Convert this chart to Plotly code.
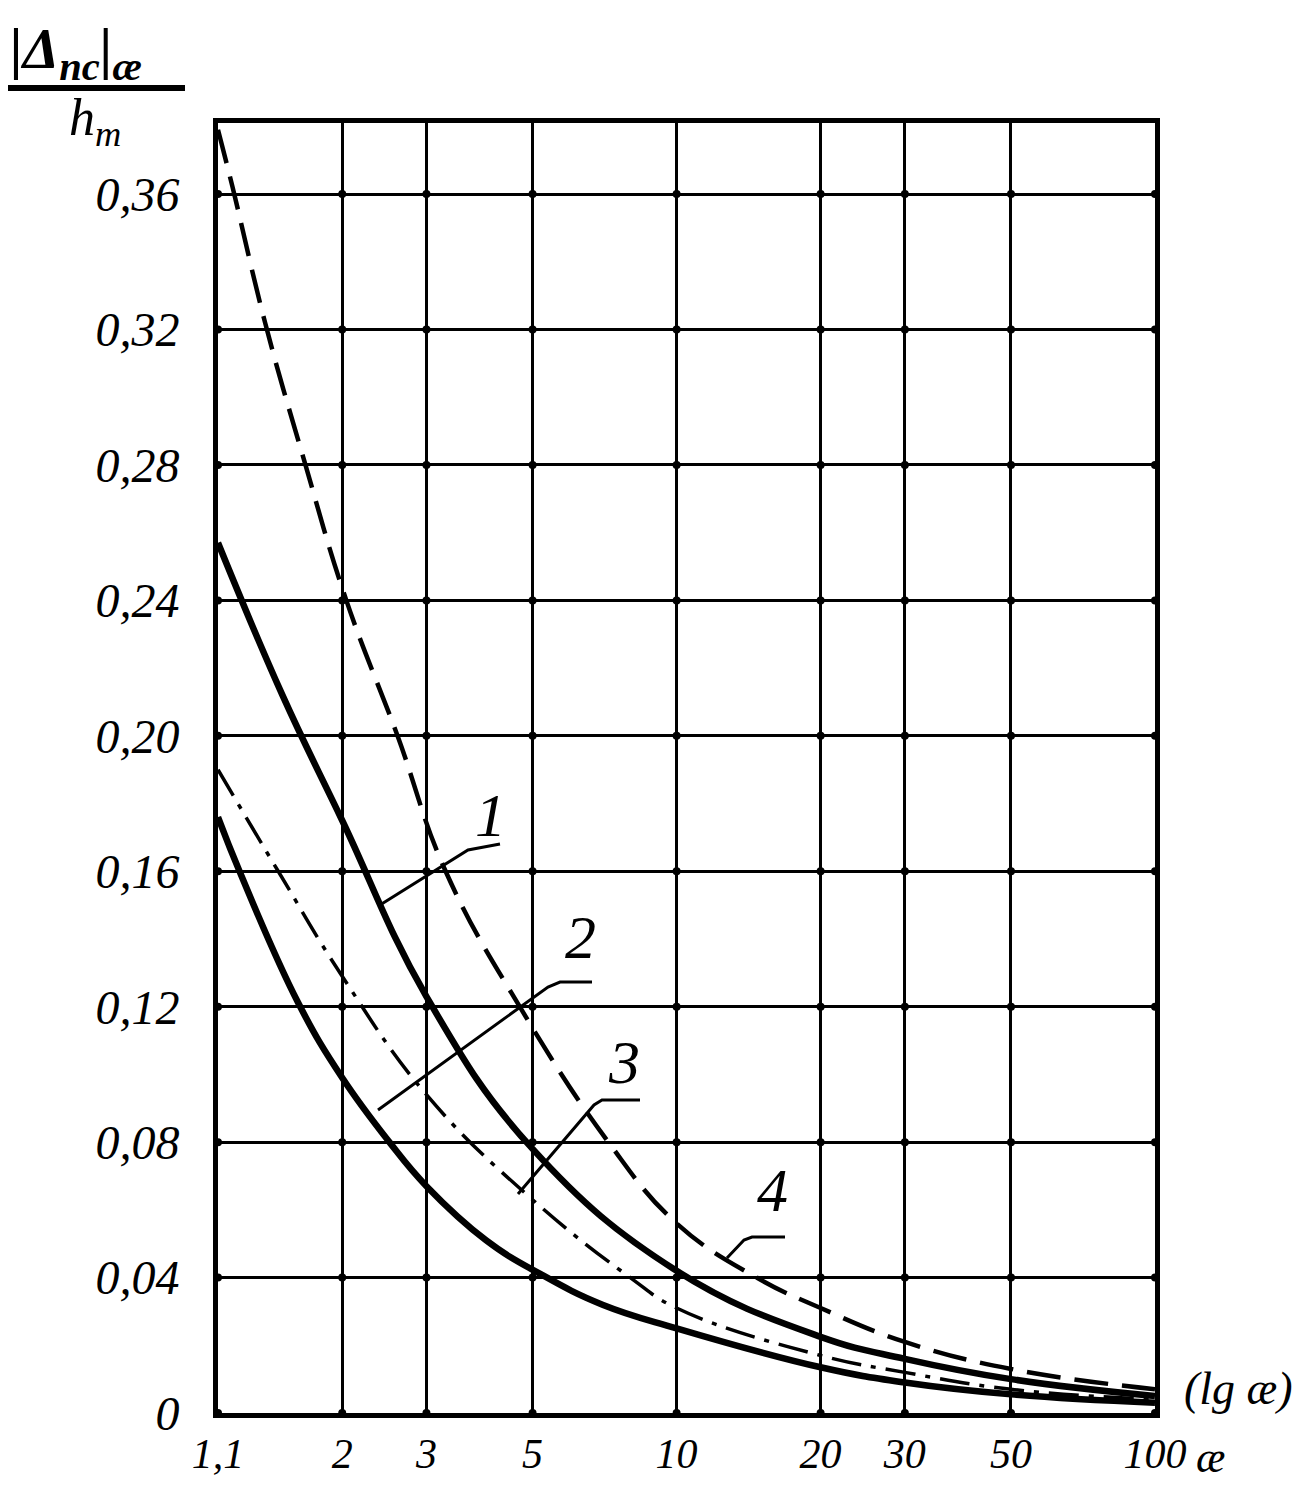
import math
import plotly.graph_objects as go

# ---- data ----
x_ticks = [1.1, 2, 3, 5, 10, 20, 30, 50, 100]
x_ticktext = ["1,1", "2", "3", "5", "10", "20", "30", "50", "100"]
y_ticks = [0, 0.04, 0.08, 0.12, 0.16, 0.20, 0.24, 0.28, 0.32, 0.36]
y_ticktext = ["0", "0,04", "0,08", "0,12", "0,16", "0,20", "0,24", "0,28", "0,32", "0,36"]

c1_x = [1.1, 1.5, 2, 3, 5, 10, 20, 30, 50, 100]
c1_y = [0.257, 0.212, 0.175, 0.123, 0.078, 0.042, 0.0225, 0.016, 0.010, 0.005]

c2_x = [1.1, 1.47, 2, 3, 5, 8, 10, 20, 30, 50, 100]
c2_y = [0.190, 0.160, 0.129, 0.094, 0.063, 0.040, 0.031, 0.017, 0.012, 0.007, 0.004]

c3_x = [1.1, 1.22, 1.62, 2, 2.51, 3, 4, 5.2, 7, 10, 20, 30, 50, 100]
c3_y = [0.176, 0.160, 0.121, 0.099, 0.080, 0.067, 0.051, 0.041, 0.032, 0.025, 0.0135, 0.009, 0.0055, 0.003]

c4_x = [1.1, 1.18, 1.38, 1.66, 2.04, 2.61, 3.29, 4.7, 7.2, 10, 14.7, 20, 30, 50, 100]
c4_y = [0.379, 0.362, 0.322, 0.282, 0.240, 0.200, 0.160, 0.120, 0.080, 0.056, 0.040, 0.031, 0.021, 0.013, 0.007]

curve_labels = ["1", "2", "3", "4"]

# ---- layout geometry (page pixels; page body has an 8px margin) ----
W, H = 1304, 1485
OFF = 8
L, R, T, B = 218, 1155, 123, 1413


def px(xp):
    return (xp - L) / (R - L)


def py(yp):
    return (B - yp) / (B - T)


FONT = "Liberation Sans Narrow"

fig = go.Figure()

ink = "#000000"
SM = 1.2
fig.add_trace(go.Scatter(x=c4_x, y=c4_y, mode="lines",
                         line=dict(color=ink, width=4.5, dash="34px,14px", shape="spline", smoothing=SM),
                         hoverinfo="skip", showlegend=False))
fig.add_trace(go.Scatter(x=c1_x, y=c1_y, mode="lines",
                         line=dict(color=ink, width=6.5, shape="spline", smoothing=SM),
                         hoverinfo="skip", showlegend=False))
fig.add_trace(go.Scatter(x=c2_x, y=c2_y, mode="lines",
                         line=dict(color=ink, width=3.5, dash="30px,10px,5px,10px", shape="spline", smoothing=SM),
                         hoverinfo="skip", showlegend=False))
fig.add_trace(go.Scatter(x=c3_x, y=c3_y, mode="lines",
                         line=dict(color=ink, width=6.5, shape="spline", smoothing=SM),
                         hoverinfo="skip", showlegend=False))

# grid intersection dots
gx = [xv for xv in x_ticks for yv in y_ticks]
gy = [yv for xv in x_ticks for yv in y_ticks]
fig.add_trace(go.Scatter(x=gx, y=gy, mode="markers",
                         marker=dict(color="black", size=8),
                         hoverinfo="skip", showlegend=False, cliponaxis=False))

fig.update_xaxes(type="log", range=[math.log10(1.1), 2],
                 tickvals=x_ticks, ticktext=x_ticktext,
                 tickfont=dict(family=FONT, size=42, color="black", style="italic"),
                 showgrid=True, gridcolor="black", gridwidth=3,
                 showline=True, linecolor="black", linewidth=5, mirror=True,
                 ticks="", ticklabelstandoff=0, zeroline=False, automargin=False)
fig.update_yaxes(range=[0, 0.381],
                 tickvals=y_ticks, ticktext=y_ticktext,
                 tickfont=dict(family=FONT, size=48, color="black", style="italic"),
                 showgrid=True, gridcolor="black", gridwidth=3,
                 showline=True, linecolor="black", linewidth=5, mirror=True,
                 ticks="", ticklabelstandoff=24, zeroline=False, automargin=False)

shapes = []
annotations = []


def polyline(points, width=3):
    path = "M " + " L ".join(f"{px(a)},{py(b)}" for a, b in points)
    shapes.append(dict(type="path", xref="paper", yref="paper", path=path,
                       line=dict(color="black", width=width)))


# leader lines for curve labels
polyline([(380, 905), (468, 850), (500, 844)])
polyline([(378, 1110), (548, 987), (560, 982), (592, 982)])
polyline([(518, 1194), (594, 1105), (602, 1100), (640, 1100)])
polyline([(727, 1258), (744, 1240), (752, 1237), (785, 1237)])

label_pos = [(490, 815), (580, 937), (624, 1062), (772, 1190)]
for lab, (a, b) in zip(curve_labels, label_pos):
    annotations.append(dict(x=px(a), y=py(b), xref="paper", yref="paper", text=lab,
                            showarrow=False, font=dict(family=FONT, size=62, color="black", style="italic"),
                            xanchor="center", yanchor="middle"))

# y-axis title as a fraction
annotations.append(dict(x=px(8), y=py(52), xref="paper", yref="paper",
                        text="<b>|Δ<sub>nc</sub>|<sub>æ</sub></b>", showarrow=False,
                        font=dict(family=FONT, size=58, color="black", style="italic"),
                        xanchor="left", yanchor="middle"))
shapes.append(dict(type="line", xref="paper", yref="paper",
                   x0=px(2), y0=py(88), x1=px(185), y1=py(88),
                   line=dict(color="black", width=6)))
annotations.append(dict(x=px(95), y=py(122), xref="paper", yref="paper",
                        text="h<sub>m</sub>", showarrow=False,
                        font=dict(family=FONT, size=52, color="black", style="italic"),
                        xanchor="center", yanchor="middle"))

# x-axis extras
annotations.append(dict(x=px(1210), y=py(1457), xref="paper", yref="paper",
                        text="æ", showarrow=False,
                        font=dict(family=FONT, size=44, color="black", style="italic"),
                        xanchor="center", yanchor="middle"))
annotations.append(dict(x=px(1238), y=py(1388), xref="paper", yref="paper",
                        text="(lg æ)", showarrow=False,
                        font=dict(family=FONT, size=46, color="black", style="italic"),
                        xanchor="center", yanchor="middle"))

fig.update_layout(width=W, height=H,
                  margin=dict(l=L - OFF, r=W + OFF - R, t=T - OFF, b=H + OFF - B),
                  paper_bgcolor="white", plot_bgcolor="white",
                  shapes=shapes, annotations=annotations,
                  showlegend=False)

fig.write_html("out.html")
